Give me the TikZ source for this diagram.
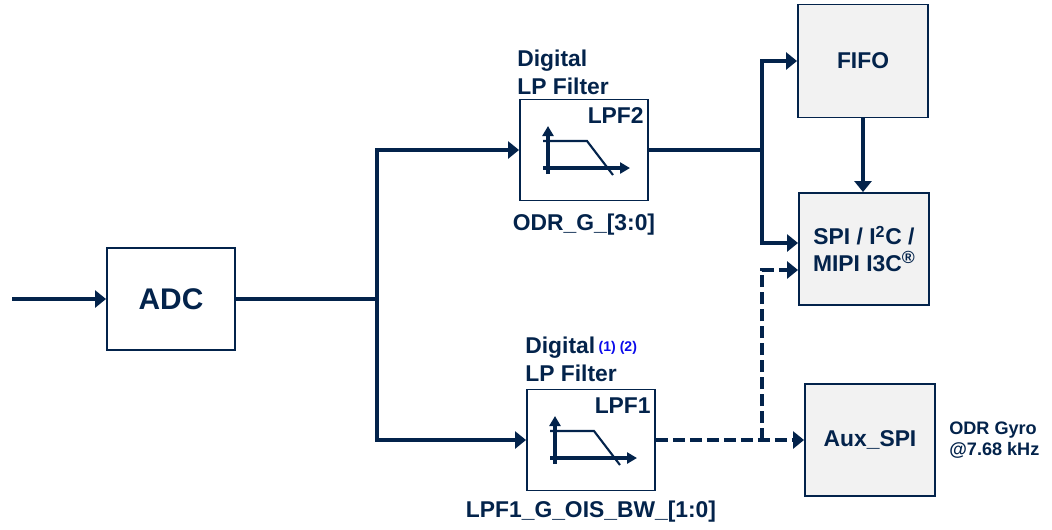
\documentclass[tikz,border=0pt]{standalone}
\usepackage{fontspec}
\setmainfont{Liberation Sans}
\usetikzlibrary{arrows.meta}
\definecolor{stnavy}{RGB}{3,35,75}
\definecolor{boxgray}{RGB}{242,242,242}
\definecolor{refblue}{RGB}{10,10,235}
\tikzset{blk/.style = {draw=stnavy, line width=1.1pt, minimum width=2.56cm, minimum height=2.02cm,
                       inner sep=0, font=\bfseries\fontsize{13}{15.5}\selectfont, text=stnavy, align=center}}
\tikzset{gblk/.style = {blk, fill=boxgray, minimum width=2.6cm, minimum height=2.24cm}}
\tikzset{wire/.style = {draw=stnavy, line width=2.2pt}}
\tikzset{arr/.style = {wire, -{Triangle[length=0.22cm, width=0.34cm]}}}
\tikzset{darr/.style = {arr, dash pattern=on 0.24cm off 0.1cm}}
\tikzset{lbl/.style = {text=stnavy, font=\bfseries\fontsize{13}{16}\selectfont, inner sep=0, align=left}}
\newcommand{\lpficon}[1]{%
  \begin{scope}[shift={(#1.center)}]
    \draw [stnavy, line width=2pt, -{Triangle[length=0.2cm, width=0.22cm]}] (-36,24) -- (-36,-24);
    \draw [stnavy, line width=2pt, -{Triangle[length=0.2cm, width=0.22cm]}] (-41,18) -- (46,18);
    \draw [stnavy, line width=1.2pt] (-41,-9) -- (3,-9) -- (29,25);
  \end{scope}}

\begin{document}
\begin{tikzpicture}[x=0.02cm, y=-0.02cm]
    \useasboundingbox (0,0) rectangle (1052,529);

    \node [blk, font=\bfseries\fontsize{17}{19}\selectfont, minimum height=2.04cm] (adc) at (171,299) {ADC};
    \node [blk] (lpf2) at (584,150) {};
    \node [blk] (lpf1) at (591,440) {};
    \node [gblk, minimum height=2.26cm] (fifo) at (863,61) {FIFO};
    \node [gblk] (spi) at (864,249) {SPI / I\textsuperscript{2}C /\\MIPI I3C\raisebox{5pt}{\fontsize{10}{10}\selectfont ®}};
    \node [gblk] (aux) at (870,440) {Aux\_SPI};

    \lpficon{lpf2}
    \lpficon{lpf1}

    \node [lbl, anchor=south west] (lpf2cap) at ([xshift=-0.04cm, yshift=0.06cm]lpf2.north west) {Digital\\LP Filter};
    \node [lbl, anchor=south west] (lpf1cap) at ([xshift=-0.02cm, yshift=0.12cm]lpf1.north west)
      {Digital\hspace{2pt}\raisebox{1.5pt}{\textcolor{refblue}{\fontsize{8}{9}\selectfont (1) (2)}}\\LP Filter};
    \node [lbl, anchor=north east] (lpf2id) at ([xshift=-0.1cm, yshift=-0.17cm]lpf2.north east) {LPF2};
    \node [lbl, anchor=north east] (lpf1id) at ([xshift=-0.1cm, yshift=-0.17cm]lpf1.north east) {LPF1};
    \node [lbl, anchor=north] (odrg) at ([yshift=-0.24cm]lpf2.south) {ODR\_G\_[3:0]};
    \node [lbl, anchor=north] (oisbw) at ([yshift=-0.18cm]lpf1.south) {LPF1\_G\_OIS\_BW\_[1:0]};
    \node [lbl, anchor=west, font=\bfseries\fontsize{10.3}{12}\selectfont] (odrgyro) at ([xshift=0.26cm]aux.east) {ODR Gyro\\@7.68 kHz};

    \coordinate (in) at (12,299);
    \coordinate (split) at (377,299);
    \coordinate (fork) at (762,150);
    \coordinate (dfork) at (762,440);

    \draw [arr] (in) -- (adc);
    \draw [wire] (adc) -- (split);
    \draw [arr] (split) |- (lpf2);
    \draw [arr] (split) |- (lpf1);
    \draw [wire] (lpf2) -- (fork);
    \draw [arr] (fork) |- (fifo);
    \draw [arr] (fork) |- ([yshift=0.12cm]spi.west);
    \draw [arr] (fifo.south) -- (fifo.south |- spi.north);
    \draw [darr] (lpf1) -- (aux);
    \draw [darr] (dfork) |- ([yshift=-0.42cm]spi.west);
\end{tikzpicture}
\end{document}
